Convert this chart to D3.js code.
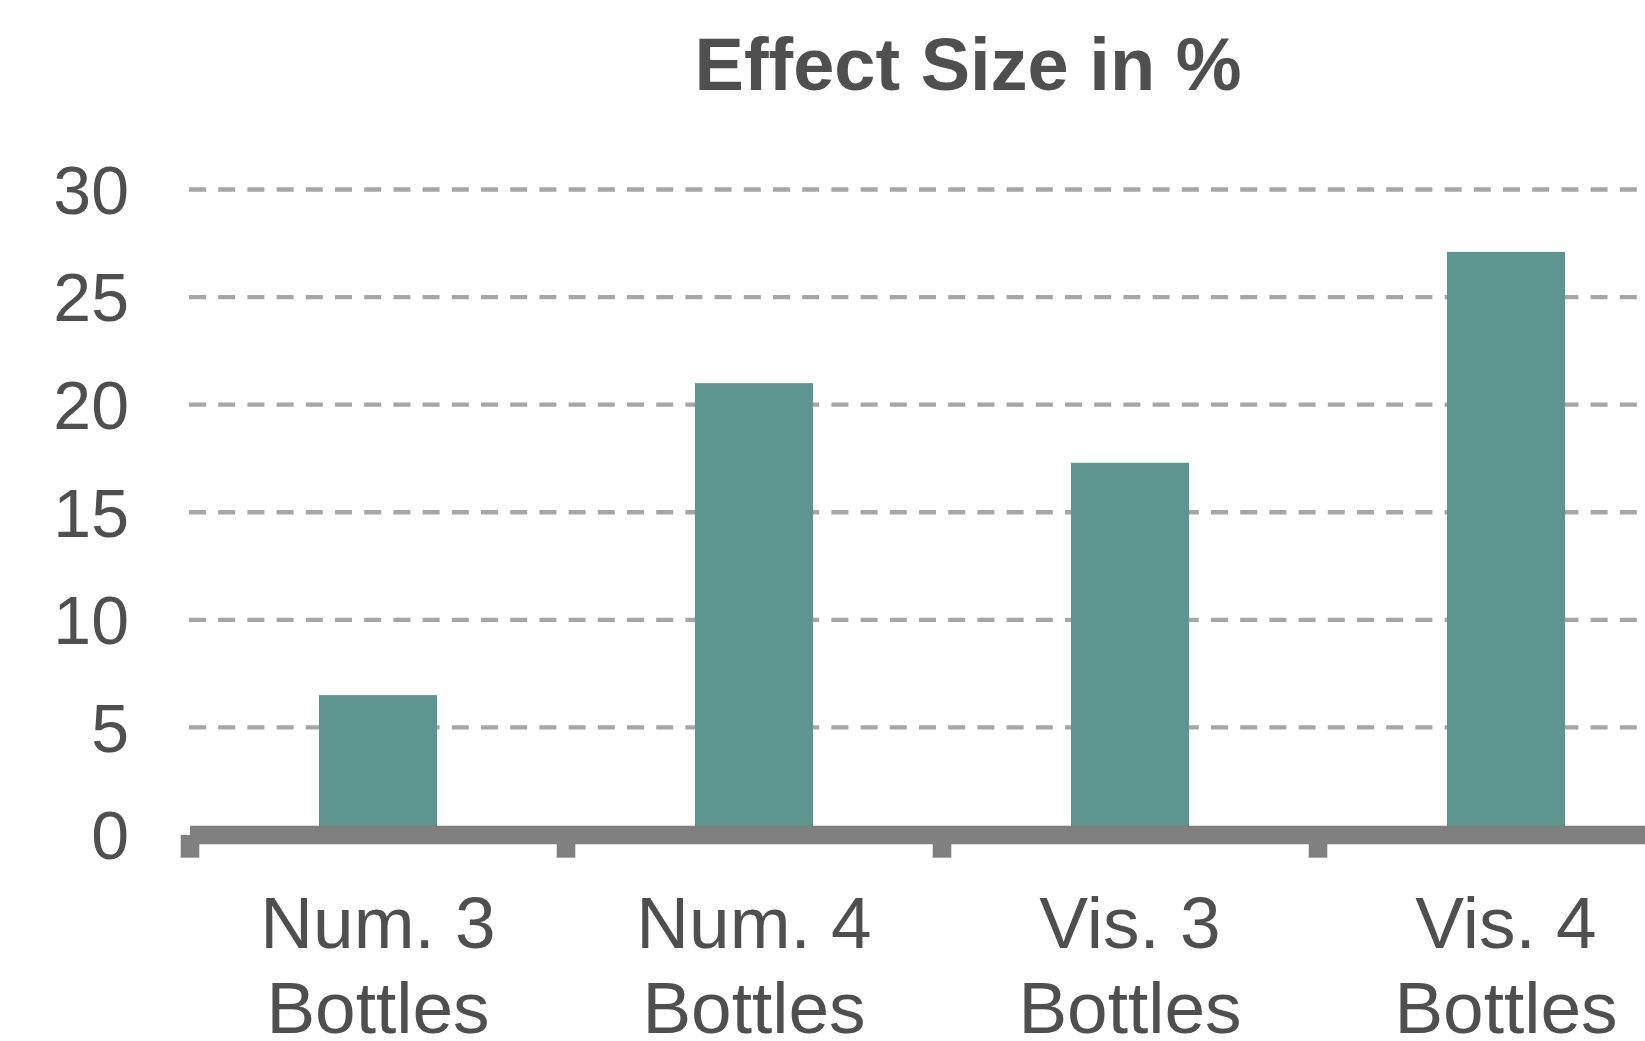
<!DOCTYPE html>
<html>
<head>
<meta charset="utf-8">
<script src="https://cdn.jsdelivr.net/npm/d3@7"></script>
<style>
  html, body { margin: 0; padding: 0; background: #ffffff; }
  svg { display: block; }
  text { font-family: "Liberation Sans", Arial, sans-serif; fill: #4f4f4f; }
</style>
</head>
<body>
<svg id="chart" width="1645" height="1041"></svg>
<script>
// ---- data ----
const categories = ["Num. 3\nBottles", "Num. 4\nBottles", "Vis. 3\nBottles", "Vis. 4\nBottles"];
const effectSize = [6.5, 21.0, 17.3, 27.1];
const yTicks = [0, 5, 10, 15, 20, 25, 30];
const titleText = "Effect Size in %";

// ---- layout ----
const W = 1645, H = 1041;
const plotLeft = 190, bandStep = 376;
const plotRight = plotLeft + bandStep * categories.length;
const yZero = 835, yTop = 189.5;

const svg = d3.select("#chart");

const x = d3.scaleBand()
  .domain(categories)
  .range([plotLeft, plotRight])
  .paddingInner(0).paddingOuter(0);

const y = d3.scaleLinear()
  .domain([0, 30])
  .range([yZero, yTop]);

const barW = x.bandwidth() * 0.314;

// gridlines
svg.append("g")
  .selectAll("line")
  .data(yTicks.filter(d => d !== 0))
  .join("line")
  .attr("x1", plotLeft - 1)
  .attr("x2", W + 10)
  .attr("y1", d => y(d))
  .attr("y2", d => y(d))
  .attr("stroke", "#a6a6a6")
  .attr("stroke-width", 4.3)
  .attr("stroke-dasharray", "17,12.2");

// y axis labels
const yAxis = d3.axisLeft(y)
  .tickValues(yTicks)
  .tickSize(0)
  .tickPadding(61)
  .tickFormat(d3.format("d"));
const gy = svg.append("g")
  .attr("transform", `translate(${plotLeft},0)`)
  .call(yAxis);
gy.select(".domain").remove();
gy.selectAll("text")
  .style("font-family", '"Liberation Sans", Arial, sans-serif')
  .style("font-size", "68px")
  .attr("fill", "#4f4f4f")
  .attr("dy", "0.35em");

// bars
svg.append("g")
  .selectAll("rect")
  .data(categories.map((c, i) => ({ c, v: effectSize[i] })))
  .join("rect")
  .attr("x", d => x(d.c) + (x.bandwidth() - barW) / 2)
  .attr("width", barW)
  .attr("y", d => y(d.v))
  .attr("height", d => y(0) - y(d.v))
  .attr("fill", "#5e958f");

// x axis line and ticks
const axisColor = "#808080";
svg.append("line")
  .attr("x1", plotLeft)
  .attr("x2", W + 10)
  .attr("y1", y(0))
  .attr("y2", y(0))
  .attr("stroke", axisColor)
  .attr("stroke-width", 18.6);

svg.append("g")
  .selectAll("line")
  .data(categories)
  .join("line")
  .attr("x1", d => x(d))
  .attr("x2", d => x(d))
  .attr("y1", y(0))
  .attr("y2", y(0) + 22.7)
  .attr("stroke", axisColor)
  .attr("stroke-width", 18.6);

// x labels
const lbl = svg.append("g")
  .selectAll("text")
  .data(categories)
  .join("text")
  .attr("text-anchor", "middle")
  .attr("font-size", "73px")
  .attr("x", d => x(d) + x.bandwidth() / 2)
  .attr("y", y(0) + 112.5);
lbl.selectAll("tspan")
  .data(d => d.split("\n"))
  .join("tspan")
  .attr("x", function () { return d3.select(this.parentNode).attr("x"); })
  .attr("dy", (d, i) => i === 0 ? 0 : 85.5)
  .text(d => d);

// title
svg.append("text")
  .attr("x", 968)
  .attr("y", 90)
  .attr("text-anchor", "middle")
  .attr("font-size", "74px")
  .attr("font-weight", "bold")
  .text(titleText);
</script>
</body>
</html>
